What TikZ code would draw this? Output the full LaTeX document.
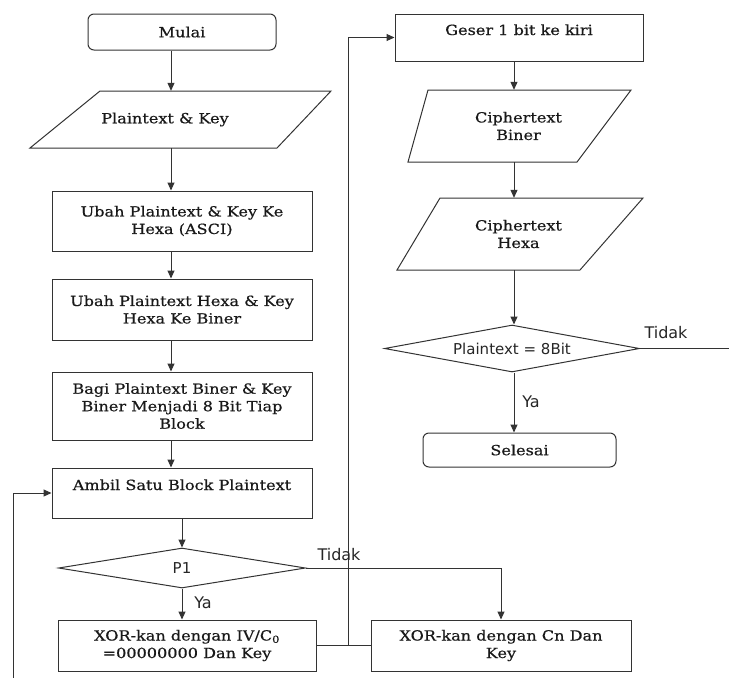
\documentclass[tikz,border=0pt]{standalone}
\usepackage{fontspec}
\usetikzlibrary{shapes.geometric,arrows.meta}
\newfontfamily\boxfnt[FakeStretch=1.15,FakeBold=0.5]{DejaVu Serif}
\newfontfamily\lblfnt{DejaVu Sans}
\newcommand\myboxfont{\boxfnt\fontsize{14}{17.5}\selectfont}
\newcommand\mylblfont{\lblfnt\fontsize{16}{18}\selectfont}
\newcommand\mydiafont{\lblfnt\fontsize{15}{18}\selectfont}
\begin{document}
\begin{tikzpicture}[x=1pt,y=-1pt,
  line/.style={draw=black!80, line width=1pt},
  arr/.style={line, -{Triangle[length=8pt,width=7pt]}},
  proc/.style={line, rectangle, inner sep=2pt, align=center, font=\myboxfont, text=black!90},
  term/.style={line, rectangle, rounded corners=6pt, inner sep=2pt, align=center, font=\myboxfont, text=black!90},
  iotext/.style={inner sep=0pt, align=center, font=\myboxfont, text=black!90},
  dec/.style={line, diamond, aspect=6, inner sep=0pt, font=\mydiafont, text=black!85},
  lbl/.style={font=\mylblfont, text=black!85, inner sep=0pt}]
\useasboundingbox (0,0) rectangle (729,678);
\fill[white] (0,0) rectangle (729,678);
\coordinate (ax) at (171,0);
\coordinate (bx) at (514,0);
\coordinate (jx) at (348,0);

% left column
\node[term, minimum width=188pt, minimum height=36pt] (mulai) at (182,32) {Mulai};
\path[line] (100,91) -- (331,91) -- (277,148) -- (30,148) -- cycle;
\node[iotext, minimum height=57pt] (pk) at (165,119.5) {Plaintext \& Key};
\node[proc, minimum width=260pt, minimum height=60pt] (b1) at (182,221) {Ubah Plaintext \& Key Ke\\Hexa (ASCI)};
\node[proc, minimum width=260pt, minimum height=61pt] (b2) at (182,309.5) {Ubah Plaintext Hexa \& Key\\Hexa Ke Biner};
\node[proc, minimum width=260pt, minimum height=68pt] (b3) at (182,406) {Bagi Plaintext Biner \& Key\\Biner Menjadi 8 Bit Tiap\\Block};
\node[proc, minimum width=260pt, minimum height=50pt, text height=10pt, text depth=16pt] (b4) at (182,493) {Ambil Satu Block Plaintext};
\node[dec, minimum width=247pt, minimum height=40pt] (p1) at (182,568) {P1};
\node[proc, minimum width=258pt, minimum height=51pt] (b5) at (187,645.5) {XOR-kan dengan IV/C\textsubscript{0}\\=00000000 Dan Key};
\node[proc, minimum width=260pt, minimum height=51pt] (b6) at (501,645.5) {XOR-kan dengan Cn Dan\\Key};

% right column
\node[proc, minimum width=248pt, minimum height=47pt, text height=10pt, text depth=15pt] (geser) at (519,37.5) {Geser 1 bit ke kiri};
\path[line] (428,90) -- (631,90) -- (577,162) -- (408,162) -- cycle;
\node[iotext, minimum height=72pt] (cb) at (518.5,126) {Ciphertext\\Biner};
\path[line] (440,198) -- (643,198) -- (580,270) -- (397,270) -- cycle;
\node[iotext, minimum height=72pt] (ch) at (518.5,234) {Ciphertext\\Hexa};
\node[dec, minimum width=255pt, minimum height=47pt] (d2) at (512,348.5) {Plaintext = 8Bit};
\node[term, minimum width=193pt, minimum height=34pt] (sel) at (519.5,450) {Selesai};
\coordinate (rt) at (729,348.5);
\coordinate (lb) at (13,678);

% connectors
\draw[arr] (ax |- mulai.south) -- (ax |- pk.north);
\draw[arr] (ax |- pk.south) -- (ax |- b1.north);
\draw[arr] (ax |- b1.south) -- (ax |- b2.north);
\draw[arr] (ax |- b2.south) -- (ax |- b3.north);
\draw[arr] (ax |- b3.south) -- (ax |- b4.north);
\draw[arr] (b4.south) -- (p1.north);
\draw[arr] (p1.south) -- (p1.south |- b5.north);
\draw[arr] (p1.east) -| (b6.north);
\draw[line] (b5.east) -- (b6.west);
\coordinate (j) at (b5.east -| jx);
\draw[arr] (j) |- (geser.west);
\draw[arr] (lb) |- (b4.west);

\draw[arr] (bx |- geser.south) -- (bx |- cb.north);
\draw[arr] (bx |- cb.south) -- (bx |- ch.north);
\draw[arr] (bx |- ch.south) -- (bx |- d2.north);
\draw[arr] (bx |- d2.south) -- (bx |- sel.north);
\draw[line] (d2.east) -- (rt);

% labels
\node[lbl] (ya1) at (203,603) {Ya};
\node[lbl] (td1) at (339,555) {Tidak};
\node[lbl] (ya2) at (531,402) {Ya};
\node[lbl] (td2) at (666,333) {Tidak};
\end{tikzpicture}
\end{document}
